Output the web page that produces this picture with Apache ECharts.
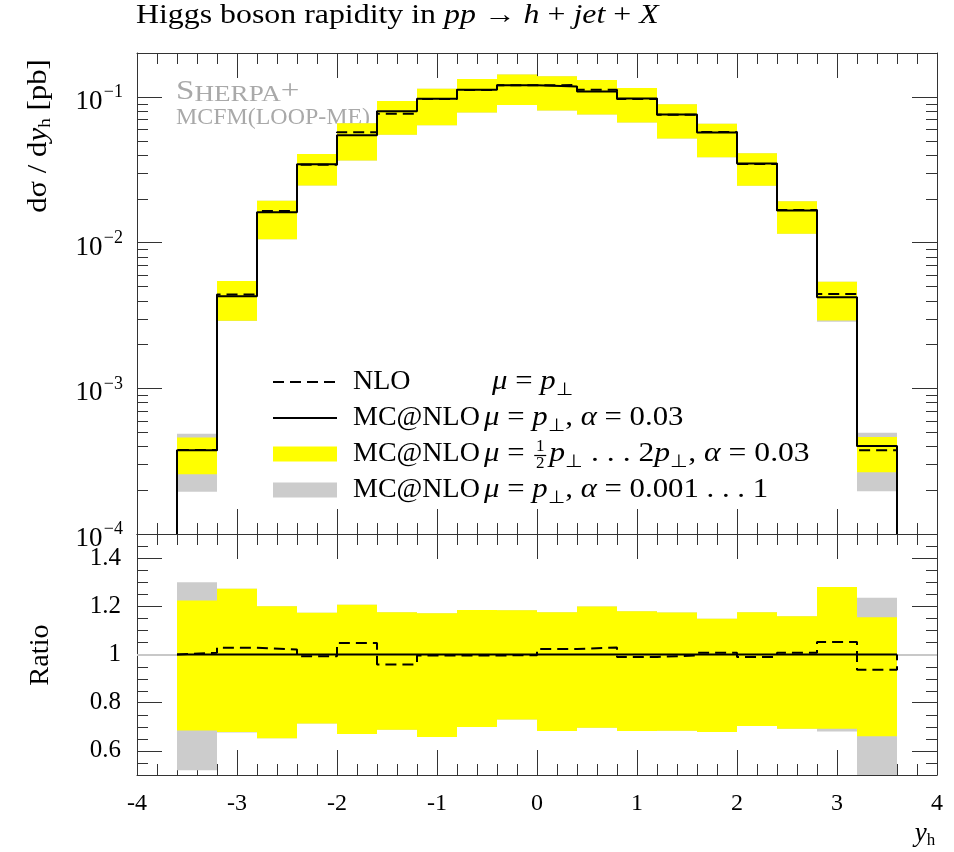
<!DOCTYPE html>
<html><head><meta charset="utf-8">
<script src="https://cdn.jsdelivr.net/npm/echarts@6/dist/echarts.min.js"></script>
<style>html,body{margin:0;padding:0;background:#fff}#c{width:954px;height:852px}</style>
</head><body><div id="c"></div>
<script>
// ---------------- data ----------------
const binEdges = [-3.6, -3.2, -2.8, -2.4, -2.0, -1.6, -1.2, -0.8, -0.4, 0.0, 0.4, 0.8, 1.2, 1.6, 2.0, 2.4, 2.8, 3.2, 3.6];
// MC@NLO mu = pT, alpha = 0.03 (solid), d sigma / d y_h in pb
const mcnloCentral = [3.75e-4, 4.28e-3, 1.615e-2, 3.45e-2, 5.46e-2, 7.98e-2, 9.69e-2, 0.1117, 0.1203, 0.1179, 0.1089, 0.0975, 0.0757, 0.0569, 0.0349, 0.0166, 4.21e-3, 4.01e-4];
// NLO / MC@NLO (dashed)
const nloRatio = [1.007, 1.028, 1.021, 0.993, 1.048, 0.959, 0.996, 0.996, 0.997, 1.023, 1.029, 0.990, 0.996, 1.007, 0.990, 1.007, 1.052, 0.937];
// scale variation band (yellow), ratio to MC@NLO central
const scaleHiRatio = [1.224, 1.273, 1.200, 1.173, 1.206, 1.175, 1.171, 1.185, 1.184, 1.175, 1.199, 1.179, 1.174, 1.148, 1.175, 1.159, 1.280, 1.155];
const scaleLoRatio = [0.685, 0.678, 0.652, 0.714, 0.670, 0.688, 0.658, 0.699, 0.730, 0.683, 0.696, 0.683, 0.684, 0.678, 0.703, 0.692, 0.692, 0.661];
// alpha variation band (grey), ratio to MC@NLO central
const alphaHiRatio = [1.300, 1.273, 1.200, 1.173, 1.206, 1.175, 1.171, 1.185, 1.184, 1.175, 1.199, 1.179, 1.174, 1.148, 1.175, 1.159, 1.280, 1.235];
const alphaLoRatio = [0.520, 0.676, 0.652, 0.714, 0.670, 0.688, 0.658, 0.699, 0.730, 0.683, 0.696, 0.683, 0.684, 0.678, 0.703, 0.692, 0.680, 0.490];
// axis tick positions
const logDecades = [1e-4, 1e-3, 1e-2];
const logMinorMultipliers = [2, 3, 4, 5, 6, 7, 8, 9];
const ratioMinorTicks = [0.55, 0.65, 0.7, 0.75, 0.85, 0.9, 0.95, 1.05, 1.1, 1.15, 1.25, 1.3, 1.35, 1.45];

// ---------------- helpers ----------------
const SERIF = "'Liberation Serif', 'Times New Roman', serif";
const FRAME = '#333';
const YELLOW = '#ffff00';
const GREY = '#cccccc';
const WIDE = 1.14;   // horizontal stretch to mimic the wider Palatino face
const WIDE_LEG = 1.1;

const logMinorTicks = [];
logDecades.forEach(d => logMinorMultipliers.forEach(m => logMinorTicks.push(m * d)));

function bandItems(loR, hiR, base) {
  return binEdges.slice(0, -1).map((x0, i) => [x0, binEdges[i + 1],
    base ? base[i] * loR[i] : loR[i], base ? base[i] * hiR[i] : hiR[i]]);
}
function stepPoints(vals, floor) {
  const pts = [[binEdges[0], floor]];
  vals.forEach((v, i) => { pts.push([binEdges[i], v]); pts.push([binEdges[i + 1], v]); });
  pts.push([binEdges[binEdges.length - 1], floor]);
  return pts;
}
function bandSeries(xi, yi, items, color) {
  return {
    type: 'custom', xAxisIndex: xi, yAxisIndex: yi, silent: true, z: 2,
    data: items, encode: { x: [0, 1], y: [2, 3] },
    renderItem(params, api) {
      const a = api.coord([api.value(0), api.value(2)]);
      const b = api.coord([api.value(1), api.value(3)]);
      const cs = params.coordSys;
      const x0 = Math.max(Math.min(a[0], b[0]), cs.x), x1 = Math.min(Math.max(a[0], b[0]), cs.x + cs.width);
      const y0 = Math.max(Math.min(a[1], b[1]), cs.y), y1 = Math.min(Math.max(a[1], b[1]), cs.y + cs.height);
      if (x1 <= x0 || y1 <= y0) return null;
      return { type: 'rect', shape: { x: x0, y: y0, width: x1 - x0, height: y1 - y0 }, style: { fill: color } };
    }
  };
}
function minorTickSeries(xi, yi, vals, len) {
  return {
    type: 'custom', xAxisIndex: xi, yAxisIndex: yi, silent: true, z: 10,
    data: vals.map(v => [0, v]), encode: { x: 0, y: 1 },
    renderItem(params, api) {
      const y = Math.round(api.coord([0, api.value(1)])[1]) + 0.5;
      const cs = params.coordSys;
      const st = { stroke: FRAME, lineWidth: 1 };
      return { type: 'group', children: [
        { type: 'line', shape: { x1: cs.x, y1: y, x2: cs.x + len, y2: y }, style: st },
        { type: 'line', shape: { x1: cs.x + cs.width - len, y1: y, x2: cs.x + cs.width, y2: y }, style: st }
      ] };
    }
  };
}
function xAxisDef(gi, pos, labels) {
  return {
    type: 'value', gridIndex: gi, position: pos, min: -4, max: 4, interval: 1,
    axisLine: { show: true, onZero: false, lineStyle: { color: FRAME, width: 1 } },
    axisTick: { show: true, inside: true, length: 25, lineStyle: { color: FRAME, width: 1 } },
    minorTick: { show: true, splitNumber: 5, length: 11, lineStyle: { color: FRAME, width: 1 } },
    splitLine: { show: false }, minorSplitLine: { show: false },
    axisLabel: labels ? { show: true, margin: 17, color: '#000', fontFamily: SERIF, fontSize: 24,
      formatter: v => String(v) } : { show: false }
  };
}
function logYAxis(pos, labels) {
  return { type: 'log', logBase: 10, gridIndex: 0, position: pos, min: 1e-4, max: 0.2,
    axisLine: { show: true, onZero: false, lineStyle: { color: FRAME, width: 1 } },
    axisTick: { show: true, inside: true, length: 25, lineStyle: { color: FRAME, width: 1 } },
    splitLine: { show: false },
    axisLabel: labels ? { show: true, margin: 14, showMaxLabel: false, color: '#000',
      formatter: v => '{b|10}{g| }{s|\u2212' + Math.round(-Math.log10(v)) + '}',
      rich: { b: { fontFamily: SERIF, fontSize: 27, lineHeight: 27, padding: [5, 0, 19, 0], verticalAlign: 'top', fill: '#000' },
              g: { fontFamily: SERIF, fontSize: 5, lineHeight: 5, verticalAlign: 'top' },
              s: { fontFamily: SERIF, fontSize: 18, lineHeight: 18, verticalAlign: 'top', fill: '#000' } } } : { show: false } };
}
function ratioYAxis(pos, labels) {
  return { type: 'value', gridIndex: 1, position: pos, min: 0.5, max: 1.5, splitNumber: 5,
    axisLine: { show: true, onZero: false, lineStyle: { color: FRAME, width: 1 } },
    axisTick: { show: true, inside: true, length: 25, lineStyle: { color: FRAME, width: 1 } },
    splitLine: { show: false },
    axisLabel: labels ? { show: true, margin: 16, showMinLabel: false, showMaxLabel: false, color: '#000',
      fontFamily: SERIF, fontSize: 25, formatter: v => String(Math.round(v * 10) / 10) } : { show: false } };
}

const nloTop = mcnloCentral.map((v, i) => v * nloRatio[i]);

// rich text styles
function richSet(fs) {
  return {
    n: { fontFamily: SERIF, fontSize: fs, lineHeight: fs, verticalAlign: 'top', fill: '#000' },
    i: { fontFamily: SERIF, fontStyle: 'italic', fontSize: fs, lineHeight: fs, verticalAlign: 'top', fill: '#000' },
    sub: { fontFamily: SERIF, fontSize: Math.round(fs * 0.64), lineHeight: Math.round(fs * 0.64), padding: [Math.round(fs * 0.46), 0, 0, 0], verticalAlign: 'top', fill: '#000' }
  };
}
function rtext(x, y, text, fs, extra, align) {
  return Object.assign({ type: 'text', x, y, z: 100,
    style: { text, fontFamily: SERIF, fontSize: fs, fill: '#000', align: align || 'left', verticalAlign: 'middle', rich: richSet(fs) } }, extra || {});
}
const mctx = document.createElement('canvas').getContext('2d');
function measure(str, fs, italic) {
  mctx.font = (italic ? 'italic ' : '') + fs + 'px "Liberation Serif"';
  return mctx.measureText(str).width;
}

// ---------------- legend + annotations (graphic) ----------------
const LF = 28;
const rowY = [382, 418, 454, 490];
const mathX = 484;
const legX = { scaleX: WIDE_LEG };
const fracX = mathX + WIDE_LEG * (measure('μ', LF, true) + measure(' = ', LF, false)) + 2;
const SH = '#a9a9a9';
const graphics = [
  // Sherpa label (behind the bands)
  { type: 'text', x: 176, y: 92, z: 0, scaleX: 1.18, style: { text: '{L|S}{s|HERPA}{L|+}', verticalAlign: 'middle', align: 'left',
      rich: { L: { fontFamily: SERIF, fontSize: 28, lineHeight: 28, verticalAlign: 'bottom', fill: SH },
              s: { fontFamily: SERIF, fontSize: 23, lineHeight: 23, verticalAlign: 'bottom', fill: SH } } } },
  { type: 'text', x: 176, y: 118, z: 0, scaleX: 1.04, style: { text: 'MCFM(LOOP-ME)', fontFamily: SERIF, fontSize: 23, fill: SH, verticalAlign: 'middle', align: 'left' } },
  // title
  rtext(136, 16, '{n|Higgs boson rapidity in }{i|pp}{n| → }{i|h}{n| + }{i|jet}{n| + }{i|X}', 27, { scaleX: 1.18 }),
  // y axis names
  rtext(39, 136, '{n|dσ / d}{i|y}{sub|h}{n| [pb]}', 27, { rotation: Math.PI / 2, scaleX: WIDE }, 'center'),
  rtext(41, 655, '{n|Ratio}', 27, { rotation: Math.PI / 2, scaleX: 1.05 }, 'center'),
  // x axis name
  rtext(925, 834, '{i|y}{sub|h}', 27, null, 'center'),
  // legend samples
  { type: 'line', z: 100, shape: { x1: 273, y1: rowY[0], x2: 337, y2: rowY[0] }, style: { stroke: '#000', lineWidth: 2, lineDash: [11, 6] } },
  { type: 'line', z: 100, shape: { x1: 273, y1: rowY[1], x2: 337, y2: rowY[1] }, style: { stroke: '#000', lineWidth: 2 } },
  { type: 'rect', z: 100, shape: { x: 273, y: rowY[2] - 7.5, width: 64, height: 15 }, style: { fill: YELLOW } },
  { type: 'rect', z: 100, shape: { x: 273, y: rowY[3] - 7.5, width: 64, height: 15 }, style: { fill: GREY } },
  // legend texts
  rtext(353, rowY[0], '{n|NLO}', LF),
  rtext(492, rowY[0], '{i|μ}{n| = }{i|p}{sub|⊥}', LF, legX),
  rtext(353, rowY[1], '{n|MC@NLO}', LF),
  rtext(mathX, rowY[1], '{i|μ}{n| = }{i|p}{sub|⊥}{n|, }{i|α}{n| = 0.03}', LF, legX),
  rtext(353, rowY[2], '{n|MC@NLO}', LF),
  rtext(mathX, rowY[2], '{i|μ}{n| = }', LF, legX),
  { type: 'text', x: fracX + 6, y: rowY[2] - 7, z: 100, style: { text: '1', fontFamily: SERIF, fontSize: 17, fill: '#000', align: 'center', verticalAlign: 'middle' } },
  { type: 'line', z: 100, shape: { x1: fracX, y1: rowY[2] + 1.5, x2: fracX + 12, y2: rowY[2] + 1.5 }, style: { stroke: '#000', lineWidth: 1.2 } },
  { type: 'text', x: fracX + 6, y: rowY[2] + 10, z: 100, style: { text: '2', fontFamily: SERIF, fontSize: 17, fill: '#000', align: 'center', verticalAlign: 'middle' } },
  rtext(fracX + 15, rowY[2], '{i|p}{sub|⊥}{n| . . . 2}{i|p}{sub|⊥}{n|, }{i|α}{n| = 0.03}', LF, { scaleX: 1.13 }),
  rtext(353, rowY[3], '{n|MC@NLO}', LF),
  rtext(mathX, rowY[3], '{i|μ}{n| = }{i|p}{sub|⊥}{n|, }{i|α}{n| = 0.001 . . . 1}', LF, legX)
];

// ---------------- chart ----------------
const chart = echarts.init(document.getElementById('c'), null, { renderer: 'canvas' });
chart.setOption({
  animation: false,
  backgroundColor: '#fff',
  grid: [
    { left: 137, width: 800, top: 53, height: 481, outerBoundsMode: 'none', containLabel: false },
    { left: 137, width: 800, top: 534, height: 241, outerBoundsMode: 'none', containLabel: false }
  ],
  xAxis: [xAxisDef(0, 'bottom', false), xAxisDef(0, 'top', false), xAxisDef(1, 'bottom', true), xAxisDef(1, 'top', false)],
  yAxis: [logYAxis('left', true), logYAxis('right', false), ratioYAxis('left', true), ratioYAxis('right', false)],
  series: [
    // top panel
    bandSeries(0, 0, bandItems(alphaLoRatio, alphaHiRatio, mcnloCentral), GREY),
    bandSeries(0, 0, bandItems(scaleLoRatio, scaleHiRatio, mcnloCentral), YELLOW),
    { type: 'line', name: 'NLO', xAxisIndex: 0, yAxisIndex: 0, data: stepPoints(nloTop, 1e-4), symbol: 'none', clip: true,
      lineStyle: { color: '#000', width: 2, type: [11, 6] }, z: 2 },
    { type: 'line', name: 'MC@NLO', xAxisIndex: 0, yAxisIndex: 0, data: stepPoints(mcnloCentral, 1e-4), symbol: 'none', clip: true,
      lineStyle: { color: '#000', width: 2 }, z: 2 },
    // ratio panel
    bandSeries(2, 2, bandItems(alphaLoRatio, alphaHiRatio, null), GREY),
    bandSeries(2, 2, bandItems(scaleLoRatio, scaleHiRatio, null), YELLOW),
    { type: 'line', name: 'NLO ratio', xAxisIndex: 2, yAxisIndex: 2, data: stepPoints(nloRatio, 1), symbol: 'none', clip: true,
      lineStyle: { color: '#000', width: 2, type: [11, 6] }, z: 2,
      markLine: { silent: true, z: 1, symbol: ['none', 'none'], label: { show: false }, animation: false,
        lineStyle: { color: '#c8c8c8', width: 2, type: 'solid' }, data: [{ yAxis: 1 }] } },
    { type: 'line', name: 'MC@NLO ratio', xAxisIndex: 2, yAxisIndex: 2,
      data: [[binEdges[0], 1], [binEdges[binEdges.length - 1], 1]], symbol: 'none', clip: true,
      lineStyle: { color: '#000', width: 2 }, z: 3 },
    // minor ticks on the y frames
    minorTickSeries(0, 0, logMinorTicks, 11),
    minorTickSeries(2, 2, ratioMinorTicks, 11)
  ],
  graphic: { elements: graphics }
});
</script>
</body></html>
